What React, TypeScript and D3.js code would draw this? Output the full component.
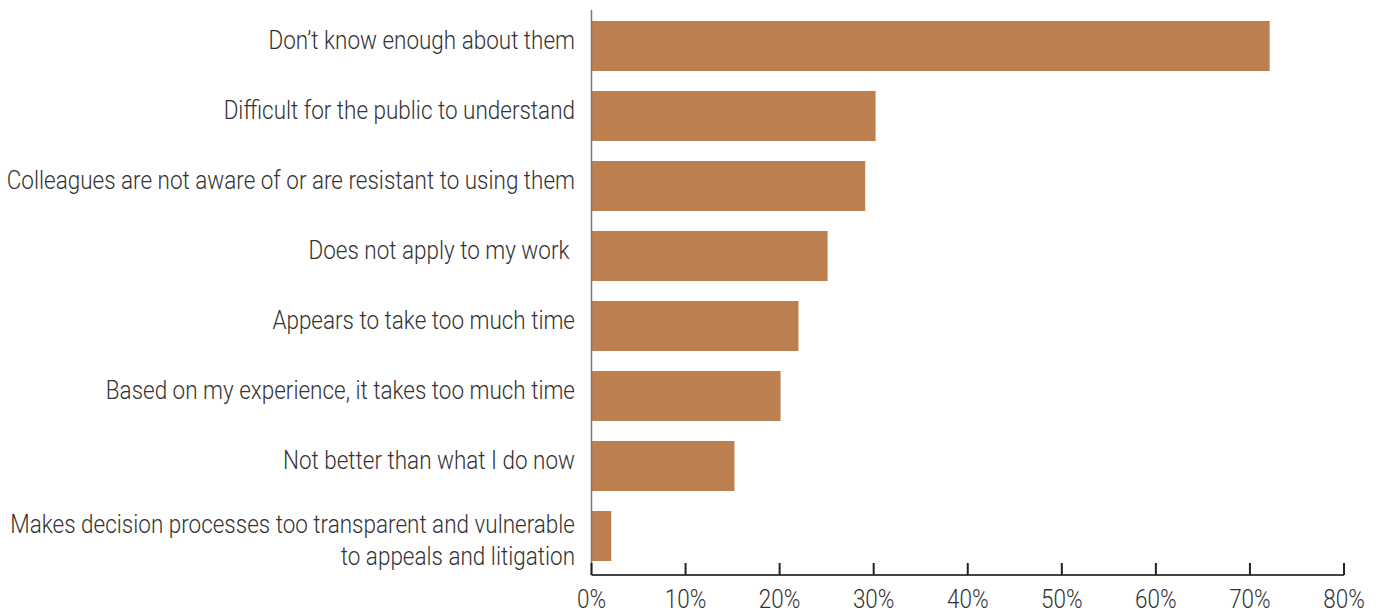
import React from "react";
import * as d3 from "d3";

const categories: string[][] = [
  ["Don\u2019t know enough about them"],
  ["Difficult for the public to understand"],
  ["Colleagues are not aware of or are resistant to using them"],
  ["Does not apply to my work "],
  ["Appears to take too much time"],
  ["Based on my experience, it takes too much time"],
  ["Not better than what I do now"],
  ["Makes decision processes too transparent and vulnerable", "to appeals and litigation"],
];
const values: number[] = [72.1, 30.2, 29.1, 25.1, 22.0, 20.1, 15.2, 2.1];
const ticks: number[] = [0, 10, 20, 30, 40, 50, 60, 70, 80];

const W = 1381;
const H = 612;
const FONT = "Roboto, 'Liberation Sans', sans-serif";
const SX = 0.865;

export default function App() {
  const x = d3.scaleLinear().domain([0, 80]).range([591.5, 1344]);
  const y = d3
    .scaleBand<number>()
    .domain(d3.range(categories.length))
    .range([11, 571])
    .paddingInner(20 / 70)
    .paddingOuter(10 / 70);
  const axisY = 575;
  return (
    <svg
      width={W}
      height={H}
      style={{ position: "absolute", left: 0, top: 0, background: "#fff" }}
      fontFamily={FONT}
      fontWeight={300}
    >
      {values.map((v, i) => (
        <rect
          key={i}
          x={x(0)}
          y={y(i)!}
          width={x(v) - x(0)}
          height={y.bandwidth()}
          fill="#BC7F50"
        />
      ))}
      <line x1={x(0)} x2={x(0)} y1={10} y2={axisY} stroke="#777" strokeWidth={1.5} />
      <line x1={x(0)} x2={x(80)} y1={axisY} y2={axisY} stroke="#444" strokeWidth={2} />
      {ticks.map((t) => (
        <g key={t}>
          <line x1={x(t)} x2={x(t)} y1={axisY - 12} y2={axisY} stroke="#222" strokeWidth={2} />
          <text
            transform={`translate(${x(t)},608) scale(${SX},1)`}
            textAnchor="middle"
            fontSize={26}
            fill="#333"
          >
            {t}%
          </text>
        </g>
      ))}
      {categories.map((lines, i) => {
        const cy = y(i)! + y.bandwidth() / 2;
        const n = lines.length;
        return lines.map((line, j) => {
          const base = n === 1 ? cy + 3 : cy - 3 + j * 32;
          return (
            <text
              key={i + "-" + j}
              transform={`translate(575,${base}) scale(${SX},1)`}
              textAnchor="end"
              fontSize={26}
              fill="#333"
              style={{ whiteSpace: "pre" }}
            >
              {line}
            </text>
          );
        });
      })}
    </svg>
  );
}
